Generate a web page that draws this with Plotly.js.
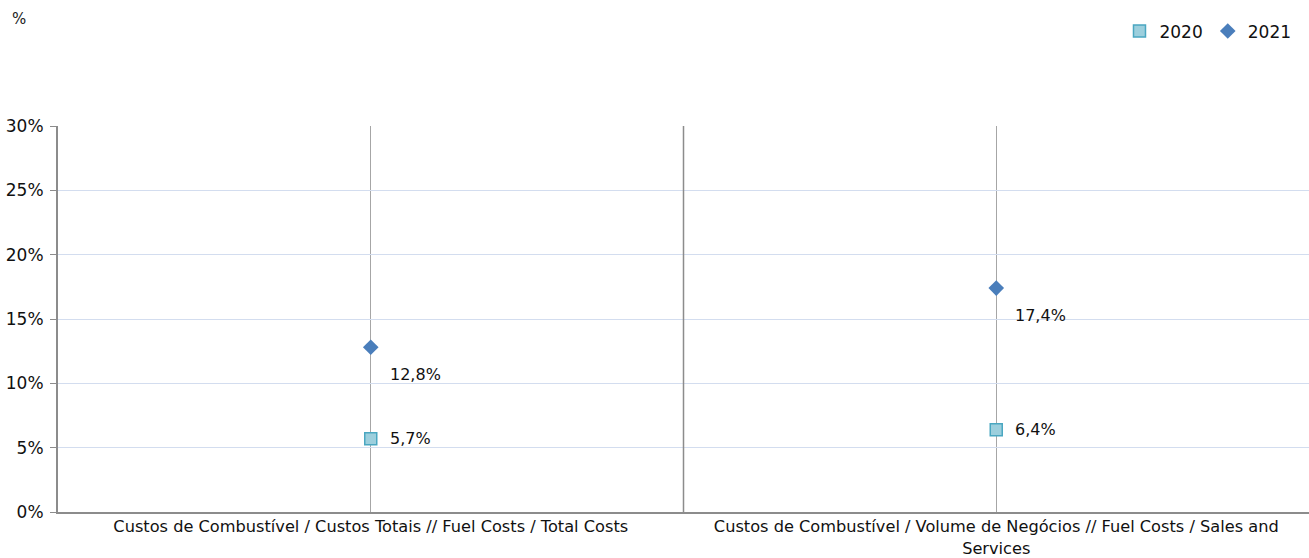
<!DOCTYPE html>
<html><head><meta charset="utf-8">
<script src="https://cdn.plot.ly/plotly-3.0.1.min.js"></script>
<style>html,body{margin:0;padding:0;background:#fff}#chart{width:1309px;height:558px}</style>
</head><body><div id="chart"></div>
<script>
var categories = ["Custos de Combustível / Custos Totais // Fuel Costs / Total Costs",
                  "Custos de Combustível / Volume de Negócios // Fuel Costs / Sales and<br>Services"];
var values2020 = [5.7, 6.4];
var values2021 = [12.8, 17.4];
var yTicks = [0, 5, 10, 15, 20, 25, 30];
var yTickLabels = ["0%", "5%", "10%", "15%", "20%", "25%", "30%"];

var FONT = "DejaVu Sans, sans-serif";
var xIdx = categories.map(function(c, i){ return i; });
function fmt(v){ return v.toFixed(1).replace('.', ',') + '%'; }

var traces = [
  {x: xIdx, y: values2020, name: '2020', type: 'scatter', mode: 'markers',
   marker: {symbol: 'square', size: 12, color: '#9ccfdd', line: {color: '#4aa7c1', width: 1.5}}},
  {x: xIdx, y: values2021, name: '2021', type: 'scatter', mode: 'markers',
   marker: {symbol: 'diamond', size: 12, color: '#4a7ebb', line: {width: 0}}}
];

var annotations = [];
xIdx.forEach(function(i){
  annotations.push({x: i, y: values2020[i], xref: 'x', yref: 'y', text: fmt(values2020[i]),
    showarrow: false, xanchor: 'left', yanchor: 'middle', xshift: 17, yshift: 0,
    font: {family: FONT, size: 16, color: '#111'}});
  annotations.push({x: i, y: values2021[i], xref: 'x', yref: 'y', text: fmt(values2021[i]),
    showarrow: false, xanchor: 'left', yanchor: 'middle', xshift: 17, yshift: -27,
    font: {family: FONT, size: 16, color: '#111'}});
});
annotations.push({xref: 'paper', yref: 'paper', x: -0.038, y: 1.277, xanchor: 'left', yanchor: 'middle',
  text: '%', showarrow: false, font: {family: FONT, size: 15, color: '#222'}});

var layout = {
  width: 1309, height: 558,
  margin: {l: 58, r: 0, t: 126, b: 46},
  paper_bgcolor: '#fff', plot_bgcolor: '#fff',
  showlegend: true,
  legend: {orientation: 'h', x: 0.99, xanchor: 'right', y: 1.245, yanchor: 'middle',
    font: {family: FONT, size: 17, color: '#111'}, itemwidth: 30, tracegroupgap: 0},
  xaxis: {range: [-0.5, 1.5], tickvals: xIdx, ticktext: categories, showgrid: true,
    gridcolor: '#a6a6a6', gridwidth: 1, zeroline: false, showline: true, linecolor: '#8c8c8c', linewidth: 2,
    ticks: '', ticklabelstandoff: -1, tickfont: {family: FONT, size: 16.2, color: '#111'}, fixedrange: true},
  yaxis: {range: [0, 30], tickvals: yTicks, ticktext: yTickLabels, showgrid: true,
    gridcolor: '#d3ddef', gridwidth: 1, zeroline: false, showline: true, linecolor: '#8c8c8c', linewidth: 2,
    ticks: 'outside', ticklen: 6, tickcolor: '#8c8c8c', ticklabelstandoff: 3,
    tickfont: {family: FONT, size: 17, color: '#111'}},
  shapes: [{type: 'line', xref: 'x', yref: 'paper', x0: 0.5, x1: 0.5, y0: 0, y1: 1,
    line: {color: '#8c8c8c', width: 1.5}}],
  annotations: annotations
};
Plotly.newPlot('chart', traces, layout, {displayModeBar: false, staticPlot: true});
</script></body></html>
